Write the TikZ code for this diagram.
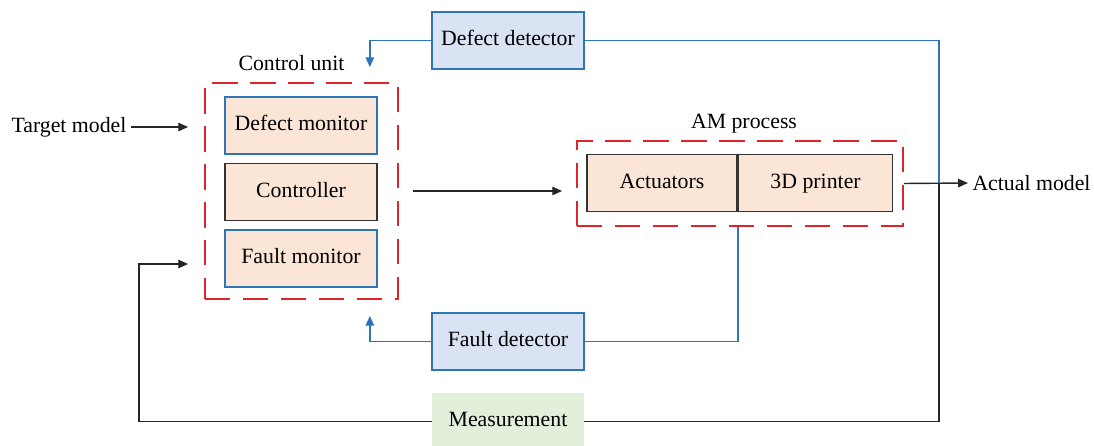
\documentclass[tikz,border=0pt]{standalone}
\usepackage{fontspec}
\setmainfont{Liberation Serif}
\usetikzlibrary{arrows.meta, positioning}
\definecolor{peach}{HTML}{FBE5D6}
\definecolor{paleblue}{HTML}{DAE3F3}
\definecolor{palegreen}{HTML}{E2EFDA}
\definecolor{linkblue}{HTML}{2E75B6}
\definecolor{groupred}{HTML}{E0242B}
\tikzset{
    % Blocks inside the control unit and the AM process - peach boxes
    inner block/.style={rectangle, fill=peach, line width=1.1pt, minimum width=3.8cm, minimum height=1.425cm, inner sep=0pt, text height=11pt, text depth=3.5pt},
    monitor block/.style={inner block, draw=linkblue},
    plain block/.style={inner block, draw=black!80},
    % Detectors - pale blue boxes
    detector block/.style={rectangle, draw=linkblue, fill=paleblue, line width=1.1pt, minimum width=3.8cm, minimum height=1.425cm, text height=11pt, text depth=3.5pt},
    % Measurement - pale green box without border
    measure block/.style={rectangle, fill=palegreen, minimum width=3.8cm, minimum height=1.425cm, text height=11pt, text depth=3.5pt},
    % Grouping frames - red dashed
    group frame/.style={rectangle, draw=groupred, line width=1.2pt, dash pattern=on 18pt off 9pt, inner sep=0pt},
    % Connectors
    flow/.style={black!85, line width=1pt, -{Triangle[length=7pt, width=6pt]}},
    flow line/.style={black!85, line width=1pt},
    blue flow/.style={linkblue, line width=1.1pt, -{Triangle[length=7pt, width=6pt]}},
    blue line/.style={linkblue, line width=1.1pt}
}

\begin{document}
\begin{tikzpicture}[x=0.025cm, y=-0.025cm, font=\fontsize{15.5}{18}\selectfont]
    \useasboundingbox (0,0) rectangle (1094,446);

    % --- Control unit ---
    \node[group frame, minimum width=4.825cm, minimum height=5.4cm,
          label={[xshift=-0.25cm, yshift=0.15cm]above:Control unit}] (cu) at (301.5,191) {};
    \node[monitor block] (defmon) at (301,125.5) {Defect monitor};
    \node[plain block, below=0.2cm of defmon] (ctrl) {Controller};
    \node[monitor block, below=0.2cm of ctrl] (faultmon) {Fault monitor};

    % --- AM process ---
    \node[group frame, minimum width=8.15cm, minimum height=2.125cm,
          label={[xshift=0.1cm, yshift=0.05cm]above:AM process}] (am) at (740,183.5) {};
    \node[plain block, minimum width=3.75cm] (act) at (662,183) {Actuators};
    \node[plain block, minimum width=3.85cm, right=0pt of act] (printer) {3D printer};

    % --- Detectors and measurement ---
    \node[detector block] (defdet) at (508,40.5) {Defect detector};
    \node[detector block] (faultdet) at (508,341.5) {Fault detector};
    \node[measure block] (meas) at (508,421.5) {Measurement};

    % --- Inputs and outputs ---
    \node (target) at (69,127) {Target model};
    \node[anchor=west, inner sep=3pt] (actual) at (968,183) {Actual model};
    \coordinate (tap) at (939,183);
    \coordinate (fb) at (139,264);

    % --- Forward path ---
    \draw[flow, shorten >=0.4cm] (target) -- (target -| cu.west);
    \draw[flow, shorten <=0.35cm, shorten >=0.35cm] (cu.east) -- (cu.east -| am.west);
    \draw[flow] (am.east) -- (actual.west);

    % --- Feedback paths ---
    \draw[blue line] (tap) |- (defdet.east);
    \draw[blue flow, shorten >=0.375cm] (defdet.west) -| ([xshift=-0.725cm]cu.north east);
    \draw[blue line] (faultdet.east) -| (act.south east |- am.south);
    \draw[blue flow, shorten >=0.4cm] (faultdet.west) -| ([xshift=-0.725cm]cu.south east);
    \draw[flow line] (tap) |- (meas.east);
    \draw[flow, shorten >=0.4cm] (meas.west) -| (fb) -- (fb -| cu.west);

\end{tikzpicture}
\end{document}
